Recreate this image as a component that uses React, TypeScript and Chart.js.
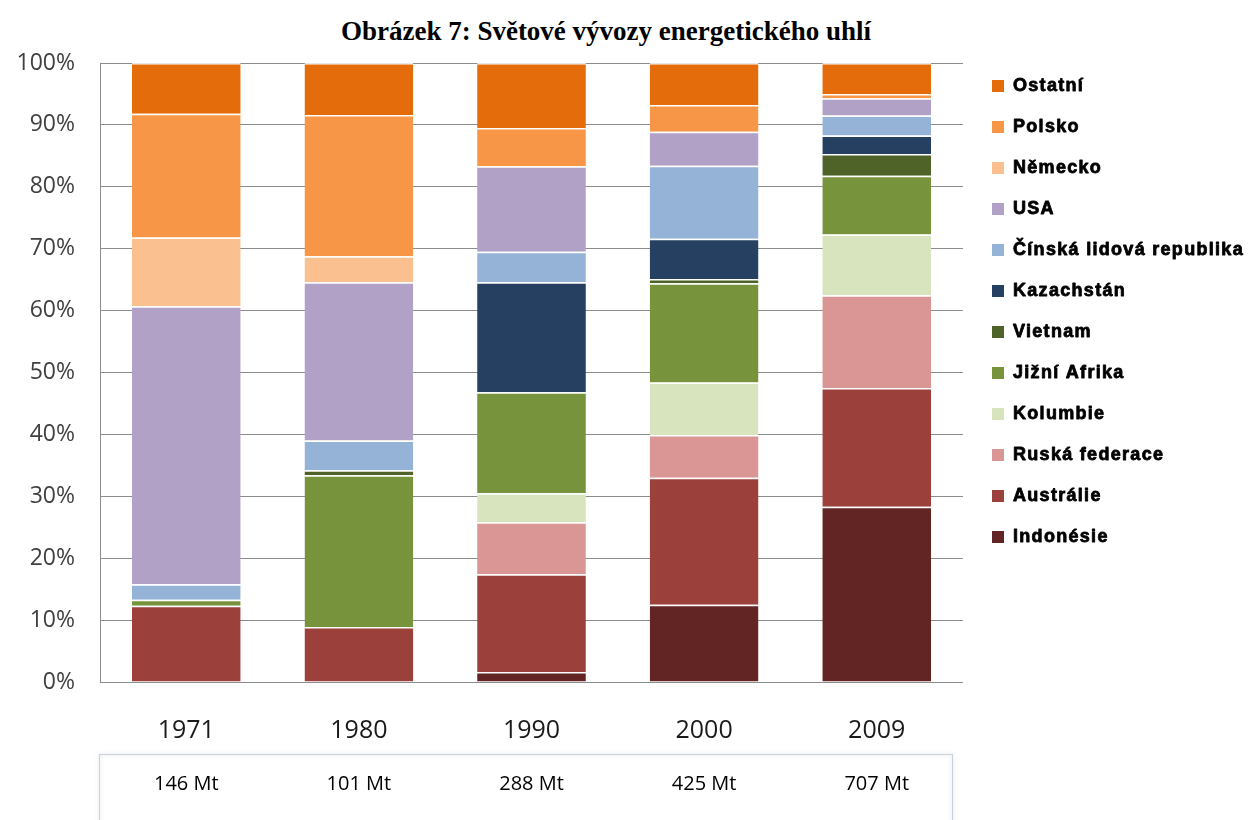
import React, { useEffect, useRef } from "react";
import { Chart, registerables } from "chart.js";

Chart.register(...registerables);

// Categories and the annual export volume shown under each column
const years = ["1971", "1980", "1990", "2000", "2009"];
const volumes = ["146 Mt", "101 Mt", "288 Mt", "425 Mt", "707 Mt"];

// Share of world steam-coal exports, percent (bottom of the stack first)
const indonesie = [0, 0, 1.6, 12.5, 28.3];
const australie = [12.3, 8.9, 15.8, 20.5, 19.2];
const ruskaFederace = [0, 0, 8.4, 6.9, 15.0];
const kolumbie = [0, 0, 4.7, 8.5, 9.8];
const jizniAfrika = [1.0, 24.5, 16.3, 16.0, 9.5];
const vietnam = [0, 0.8, 0, 0.7, 3.5];
const kazachstan = [0, 0, 17.8, 6.5, 3.0];
const cina = [2.5, 4.8, 4.9, 11.8, 3.2];
const usa = [44.9, 25.6, 13.8, 5.5, 2.8];
const nemecko = [11.1, 4.2, 0, 0, 0];
const polsko = [20.0, 22.8, 6.2, 4.3, 0.7];
const ostatni = [8.2, 8.4, 10.5, 6.8, 5.0];

const yTicks = [0, 10, 20, 30, 40, 50, 60, 70, 80, 90, 100];

const series = [
  { label: "Indonésie", data: indonesie, color: "#632523" },
  { label: "Austrálie", data: australie, color: "#9c403c" },
  { label: "Ruská federace", data: ruskaFederace, color: "#d99694" },
  { label: "Kolumbie", data: kolumbie, color: "#d7e4bd" },
  { label: "Jižní Afrika", data: jizniAfrika, color: "#77933c" },
  { label: "Vietnam", data: vietnam, color: "#4f6228" },
  { label: "Kazachstán", data: kazachstan, color: "#254061" },
  { label: "Čínská lidová republika", data: cina, color: "#95b3d7" },
  { label: "USA", data: usa, color: "#b2a1c7" },
  { label: "Německo", data: nemecko, color: "#fac090" },
  { label: "Polsko", data: polsko, color: "#f79646" },
  { label: "Ostatní", data: ostatni, color: "#e46c0a" },
];

// Legend on the right, listed from the top segment down
const sideLegend = {
  id: "sideLegend",
  afterDraw(chart: any) {
    const ctx = chart.ctx;
    ctx.save();
    ctx.font = 'bold 18px "Liberation Sans", Arial, sans-serif';
    (ctx as any).letterSpacing = "1.3px";
    ctx.textBaseline = "middle";
    ctx.textAlign = "left";
    ctx.lineJoin = "round";
    const items = chart.data.datasets.slice().reverse();
    items.forEach((ds: any, i: number) => {
      const y = 86 + i * 41;
      ctx.fillStyle = ds.backgroundColor;
      ctx.fillRect(992, y - 6, 12, 12);
      ctx.fillStyle = "#000";
      ctx.strokeStyle = "#000";
      ctx.lineWidth = 0.8;
      ctx.fillText(ds.label, 1013, y);
      ctx.strokeText(ds.label, 1013, y);
    });
    ctx.restore();
  },
};

// Frame around the row of export volumes
const volumeBox = {
  id: "volumeBox",
  beforeDraw(chart: any) {
    const ctx = chart.ctx;
    const area = chart.chartArea;
    const x2 = chart.scales.x2;
    ctx.save();
    ctx.shadowColor = "rgba(120,130,150,0.35)";
    ctx.shadowBlur = 4;
    ctx.strokeStyle = "#c9d1dc";
    ctx.lineWidth = 1;
    ctx.strokeRect(area.left - 0.5, x2.top + 9.5, area.right - area.left - 10, 80);
    ctx.restore();
  },
};

function CoalExportsChart() {
  const canvasRef = useRef<HTMLCanvasElement | null>(null);

  useEffect(() => {
    if (!canvasRef.current) return;
    const chart = new Chart(canvasRef.current, {
      type: "bar",
      data: {
        labels: years,
        datasets: series.map((s) => ({
          label: s.label,
          data: s.data,
          backgroundColor: s.color,
          borderColor: "rgba(255,255,255,0.8)",
          borderWidth: { top: 1.5, left: 0, right: 0, bottom: 0 },
          borderSkipped: false,
          barPercentage: 0.63,
          categoryPercentage: 1,
          xAxisID: "x",
        })),
      },
      options: {
        responsive: false,
        animation: false,
        events: [],
        devicePixelRatio: 1,
        layout: { padding: { left: 0, right: 288, top: 63, bottom: 25 } },
        plugins: {
          legend: { display: false },
          title: { display: false },
          tooltip: { enabled: false },
        },
        scales: {
          x: {
            stacked: true,
            position: "bottom",
            weight: 0,
            grid: { display: false, drawTicks: false },
            border: { display: false },
            ticks: {
              padding: 34,
              color: "#1a1a1a",
              font: { family: '"Open Sans", sans-serif', size: 25 },
            },
            afterFit: (s: any) => {
              s.height = 63;
            },
          },
          x2: {
            type: "category",
            labels: volumes,
            position: "bottom",
            weight: 1,
            offset: true,
            grid: { display: false, drawTicks: false },
            border: { display: false },
            ticks: {
              padding: 27,
              color: "#000",
              font: { family: '"Open Sans", sans-serif', size: 20 },
            },
            afterFit: (s: any) => {
              s.height = 50;
            },
          },
          y: {
            stacked: true,
            min: 0,
            max: 100,
            afterBuildTicks: (s: any) => {
              s.ticks = yTicks.map((v) => ({ value: v }));
            },
            grid: { color: "#8c8c8c", lineWidth: 1, drawTicks: false },
            border: { display: true, color: "#8c8c8c" },
            ticks: {
              padding: 25,
              color: "#404040",
              font: { family: '"Open Sans", sans-serif', size: 23 },
              callback: (v: any) => v + "%",
            },
            afterFit: (s: any) => {
              s.width = 100;
            },
          },
        },
      },
      plugins: [sideLegend, volumeBox],
    });
    return () => chart.destroy();
  }, []);

  return (
    <div style={{ position: "absolute", left: 0, top: 0, width: 1251, height: 820, background: "#fff" }}>
      <div
        style={{
          position: "absolute",
          left: 0,
          top: 14,
          width: 1212,
          textAlign: "center",
          fontFamily: '"Liberation Serif", "Times New Roman", serif',
          fontWeight: "bold",
          fontSize: 27,
          lineHeight: "34px",
          color: "#000",
        }}
      >
        Obrázek 7: Světové vývozy energetického uhlí
      </div>
      <canvas ref={canvasRef} width={1251} height={820} style={{ position: "absolute", left: 0, top: 0 }} />
    </div>
  );
}

export default function App() {
  return <CoalExportsChart />;
}
